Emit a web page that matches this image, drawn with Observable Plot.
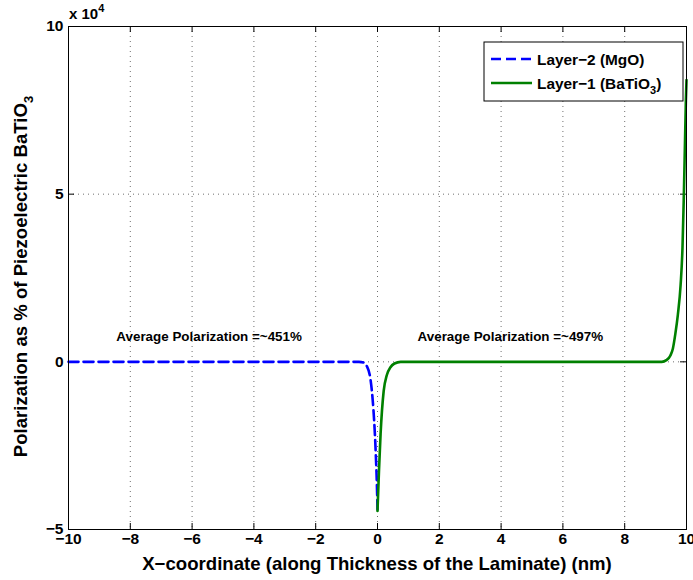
<!DOCTYPE html>
<html>
<head>
<meta charset="utf-8">
<script src="https://cdn.jsdelivr.net/npm/d3@7"></script>
<script src="https://cdn.jsdelivr.net/npm/@observablehq/plot@0.6"></script>
<style>
  html, body { margin: 0; padding: 0; background: #fff; }
  #wrap { position: relative; width: 693px; height: 580px; }
  #wrap svg { position: absolute; left: 0; top: 0; }
  #wrap svg text, #wrap svg tspan { font-family: "Liberation Sans", Arial, Helvetica, sans-serif !important; font-weight: 700 !important; }
</style>
</head>
<body>
<div id="wrap"></div>
<script>
// ---- data ----
const mgoX = [-10, -8, -6, -4, -2, -1, -0.6, -0.45, -0.35, -0.23, -0.13, -0.06, -0.01, 0];
const mgoY = [0, 0, 0, 0, 0, 0, 0, -200, -1200, -5000, -14500, -26500, -40000, -44000];
const btoX = [0, 0.05, 0.1, 0.2, 0.3, 0.42, 0.55, 0.75, 2, 4, 6, 8, 9.2, 9.35, 9.48, 9.56, 9.64, 9.72, 9.81, 9.87, 9.91, 9.95, 9.98, 10];
const btoY = [-44500, -32000, -21500, -8700, -4000, -1600, -500, 0, 0, 0, 0, 0, 0, 500, 1900, 4000, 8400, 14000, 23000, 34000, 48000, 65000, 78000, 84000];
const xTicks = [-10, -8, -6, -4, -2, 0, 2, 4, 6, 8, 10];
const yTicks = [-50000, 0, 50000, 100000];
const xGrid = [-8, -6, -4, -2, 0, 2, 4, 6, 8];
const yGrid = [0, 50000];
const annotations = [
  {x: -5.45, y: 7600, text: "Average Polarization =~451%"},
  {x: 4.3, y: 7600, text: "Average Polarization =~497%"}
];
const xLabel = "X\u2212coordinate (along Thickness of the Laminate) (nm)";
const legendItems = [
  {label: "Layer\u22122 (MgO)", sub: "", color: "#0000ff", dash: "10,5"},
  {label: "Layer\u22121 (BaTiO", sub: "3", color: "#008000", dash: null}
];

const mgo = mgoX.map((x, i) => ({x, y: mgoY[i]}));
const bto = btoX.map((x, i) => ({x, y: btoY[i]}));

const W = 693, H = 580;
const mL = 68, mR = 7, mT = 26, mB = 51;
const fh = H - mT - mB;
const fw = W - mL - mR;
const fmtMinus = d => String(d).replace("-", "\u2212");

const chart = Plot.plot({
  width: W, height: H,
  marginLeft: mL, marginRight: mR, marginTop: mT, marginBottom: mB,
  style: {fontFamily: "'Liberation Sans', Arial, Helvetica, sans-serif", fontWeight: "bold", background: "white", overflow: "visible"},
  x: {domain: [-10, 10], label: null},
  y: {domain: [-50000, 100000], label: null},
  marks: [
    // dotted grid
    Plot.ruleX(xGrid, {x: d => d, stroke: "#333", strokeWidth: 1, strokeDasharray: "1,4", strokeOpacity: 0.7}),
    Plot.ruleY(yGrid, {y: d => d, stroke: "#333", strokeWidth: 1, strokeDasharray: "1,4", strokeOpacity: 0.7}),
    // inward ticks bottom / top / left / right
    Plot.ruleX(xTicks, {x: d => d, insetTop: fh - 6, stroke: "black"}),
    Plot.ruleX(xTicks, {x: d => d, insetBottom: fh - 6, stroke: "black"}),
    Plot.ruleY(yTicks, {y: d => d, insetRight: fw - 6, stroke: "black"}),
    Plot.ruleY(yTicks, {y: d => d, insetLeft: fw - 6, stroke: "black"}),
    // tick labels
    Plot.axisX(xTicks, {tickSize: 0, tickPadding: 3, tickFormat: fmtMinus, fontSize: 15.5, fill: "black"}),
    Plot.axisY(yTicks, {tickSize: 0, tickPadding: 5, tickFormat: d => fmtMinus(d / 10000), fontSize: 15.5, fill: "black"}),
    // data
    Plot.line(mgo, {x: "x", y: "y", stroke: "#0000ff", strokeWidth: 2.6, strokeDasharray: "10,5", curve: "monotone-x"}),
    Plot.line(bto, {x: "x", y: "y", stroke: "#008000", strokeWidth: 2.6, curve: "monotone-x"}),
    // annotations
    Plot.text(annotations, {x: "x", y: "y", text: "text", fontSize: 13.4, fill: "black"}),
    Plot.frame({stroke: "black", strokeWidth: 1})
  ]
});

document.getElementById("wrap").appendChild(chart);

const svg = d3.select(chart);

// x 10^4 multiplier
const mult = svg.append("text").attr("x", 69).attr("y", 19).attr("text-anchor", "start").attr("font-size", 15).attr("fill", "black");
mult.append("tspan").text("x 10");
mult.append("tspan").attr("dy", -7).attr("font-size", 11).text("4");

// x label
svg.append("text").attr("x", mL + fw / 2).attr("y", 570).attr("text-anchor", "middle")
  .attr("font-size", 18.6).attr("fill", "black").text(xLabel);

// y label
const yl = svg.append("text").attr("transform", `translate(27,${mT + fh / 2 - 1}) rotate(-90)`).attr("text-anchor", "middle")
  .attr("font-size", 18.6).attr("fill", "black");
yl.append("tspan").text("Polarization as % of Piezoelectric BaTiO");
yl.append("tspan").attr("dy", 6).attr("font-size", 13).text("3");

// legend
const lg = svg.append("g").attr("transform", "translate(484,42)");
lg.append("rect").attr("width", 199).attr("height", 59).attr("fill", "white").attr("stroke", "black").attr("stroke-width", 1);
legendItems.forEach((it, i) => {
  const cy = 17 + i * 24;
  lg.append("line").attr("x1", 7).attr("x2", 48).attr("y1", cy).attr("y2", cy)
    .attr("stroke", it.color).attr("stroke-width", 2.6).attr("stroke-dasharray", it.dash);
  const t = lg.append("text").attr("x", 53).attr("y", cy + 5.5).attr("text-anchor", "start").attr("font-size", 15.4).attr("fill", "black");
  t.append("tspan").text(it.label);
  if (it.sub) {
    t.append("tspan").attr("dy", 5).attr("font-size", 11).text(it.sub);
    t.append("tspan").attr("dy", -5).text(")");
  }
});
</script>
</body>
</html>
